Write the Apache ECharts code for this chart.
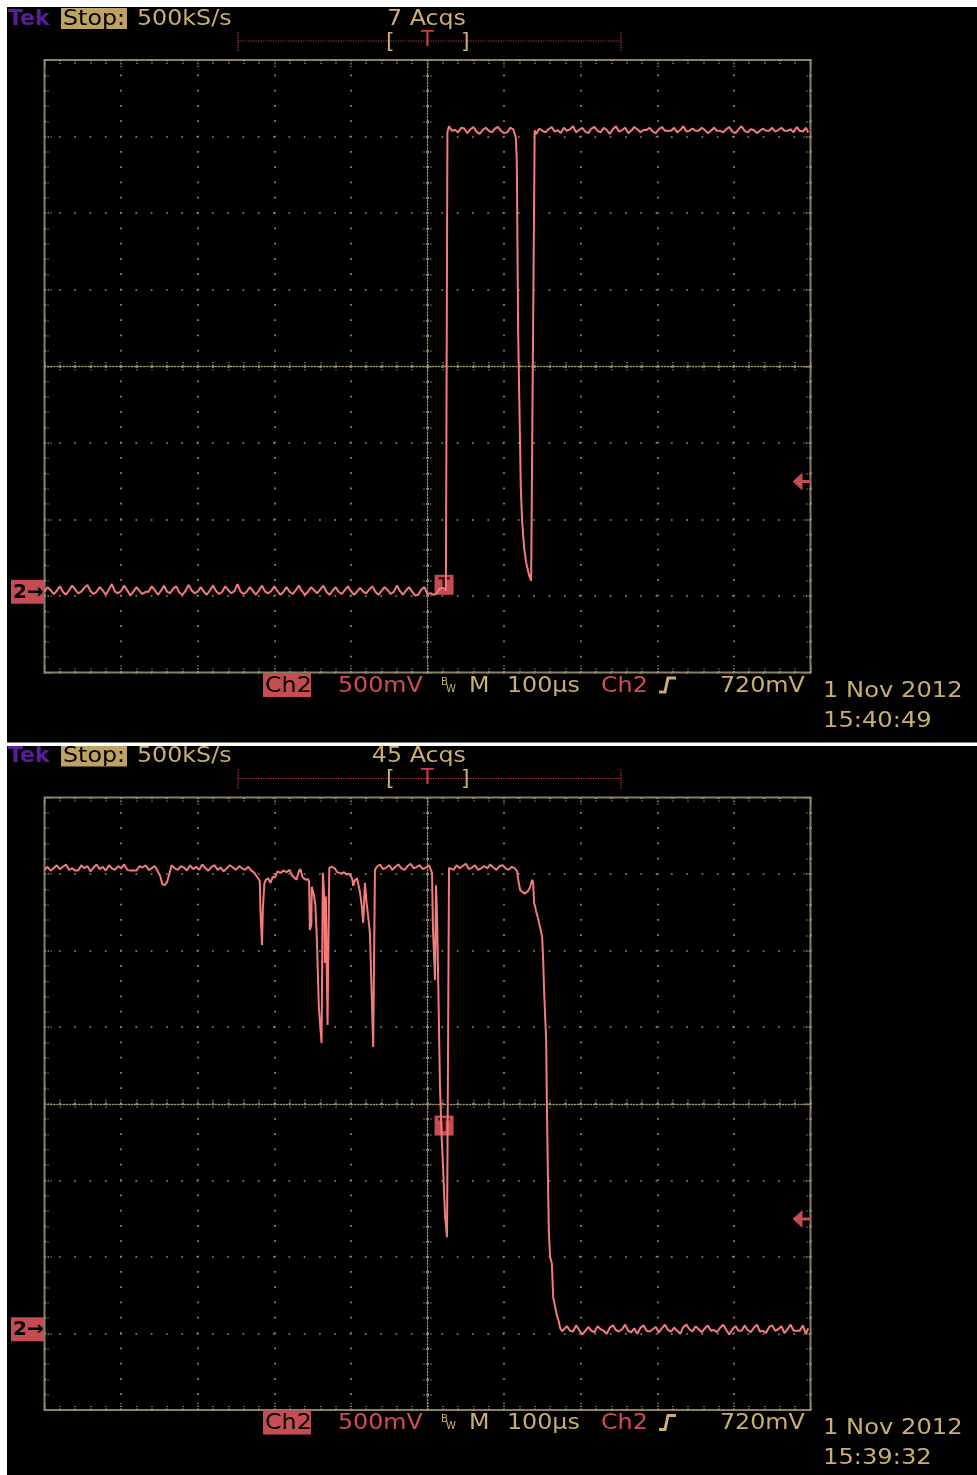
<!DOCTYPE html>
<html><head><meta charset="utf-8">
<script src="https://cdn.jsdelivr.net/npm/echarts@6/dist/echarts.min.js"></script>
<style>html,body{margin:0;padding:0;background:#000}#c{width:977px;height:1475px}</style>
</head><body><div id="c"></div><script>
// ---------------- data ----------------
// time in microseconds (100 us/div, 0 = screen centre), Ch2 voltage in mV (500 mV/div)
const trace1 = [
[-500,0],[-496,30],[-492,10],[-488,-15],[-484,5],[-480,35],[-476,0],[-472,-20],[-468,10],[-464,40],
[-460,15],[-456,-10],[-452,0],[-448,25],[-444,45],[-440,5],[-436,-15],[-432,0],[-428,30],[-424,10],
[-420,-20],[-416,15],[-412,50],[-408,0],[-404,-10],[-400,5],[-396,40],[-392,10],[-388,-25],[-384,0],
[-380,30],[-376,5],[-372,-15],[-368,0],[-364,0],[-360,35],[-356,10],[-352,-20],[-348,5],[-344,40],
[-340,0],[-336,-10],[-332,20],[-328,35],[-324,-5],[-320,-20],[-316,5],[-312,45],[-308,10],[-304,-10],
[-300,0],[-296,30],[-292,0],[-288,-20],[-284,10],[-280,40],[-276,5],[-272,-15],[-268,0],[-264,35],
[-260,10],[-256,-10],[-252,5],[-248,50],[-244,0],[-240,-15],[-236,0],[-232,30],[-228,5],[-224,-20],
[-220,10],[-216,40],[-212,0],[-208,-10],[-204,5],[-200,35],[-196,5],[-192,-20],[-188,0],[-184,30],
[-180,0],[-176,-15],[-172,10],[-168,40],[-164,5],[-160,-20],[-156,0],[-152,30],[-148,10],[-144,-10],
[-140,15],[-136,40],[-132,0],[-128,-20],[-124,5],[-120,30],[-116,0],[-112,-15],[-108,10],[-104,35],
[-100,5],[-96,-20],[-92,0],[-88,25],[-84,0],[-80,-10],[-76,15],[-72,35],[-68,0],[-64,-20],
[-60,5],[-56,30],[-52,10],[-48,-15],[-44,0],[-40,40],[-36,5],[-32,-20],[-28,10],[-24,30],
[-20,0],[-16,-25],[-12,-20],[-8,15],[-4,30],[0,-15],[4,-10],[8,-20],[12,-10],[16,20],[20,25],[24,10],
[26,3000],[28,3040],[32,3010],[36,3015],[40,3000],[44,3030],[48,3025],[52,2995],[56,3020],[60,3035],
[64,3005],[68,2990],[72,3015],[76,3030],[80,3010],[84,3000],[88,3025],[92,3035],[96,3010],[100,2995],
[104,3000],[108,3030],[112,3020],
[113.5,3007],[115.3,2967],[116.6,2817],[118.3,1706],[121.8,680],[123.5,464],[126.1,288],[128.8,190],
[130.7,150],[132.7,105],[135.3,72],[137.9,72],[139.9,3013],
[142,2990],[146,3025],[150,3010],[154,3000],[158,3020],[162,3035],[166,3005],[170,3015],[174,2995],[178,3030],
[182,3010],[186,3020],[190,3040],[194,3000],[198,3015],[202,3030],[206,3005],[210,2995],[214,3025],[218,3035],
[222,3010],[226,3000],[230,3030],[234,3015],[238,2990],[242,3020],[246,3040],[250,3005],[254,3015],[258,3030],
[262,2995],[266,3010],[270,3035],[274,3020],[278,3000],[282,3015],[286,3015],[290,3030],[294,3005],[298,2995],
[302,3020],[306,3035],[310,3010],[314,3010],[318,3010],[322,3030],[326,3000],[330,3015],[334,3040],[338,3005],
[342,3010],[346,3025],[350,3010],[354,3010],[358,3030],[362,3015],[366,2995],[370,3010],[374,3030],[378,3010],
[382,3010],[386,3000],[390,3020],[394,3035],[398,3005],[402,2995],[406,3020],[410,3040],[414,3010],[418,3000],
[422,3020],[426,3015],[430,2995],[434,3010],[438,3025],[442,3010],[446,3010],[450,3030],[454,3005],[458,3015],
[462,3030],[466,3010],[470,3010],[474,3020],[478,3000],[482,3035],[486,3010],[490,3005],[494,3030],[497,3000]
];
const trace2 = [
[-500,3000],[-496,3020],[-492,2995],[-488,3010],[-484,3030],[-480,3005],[-476,3020],[-472,3035],[-468,3000],[-464,3010],
[-460,2995],[-456,2995],[-452,3030],[-448,3010],[-444,3025],[-440,2990],[-436,3015],[-432,3035],[-428,3005],[-424,3020],
[-420,2995],[-416,3030],[-412,3010],[-408,3000],[-404,3025],[-400,3010],[-396,3035],[-392,3000],[-388,2995],[-384,2995],
[-380,2995],[-376,3025],[-372,3015],[-368,3030],[-364,3000],[-360,3010],[-356,3025],[-352,2990],
[-349,2960],[-346,2905],[-343,2900],[-340,2920],[-337,2975],
[-334,3030],[-330,3010],[-326,3000],[-322,3025],[-318,3015],[-314,2995],[-310,3030],[-306,3005],[-302,3020],[-298,3000],
[-294,3035],[-290,3010],[-286,2995],[-282,3020],[-278,3030],[-274,3000],[-270,3015],[-266,2990],[-262,3010],[-258,3030],
[-254,3015],[-250,3000],[-246,3025],[-242,3010],[-238,3000],[-234,3020],[-230,2995],
[-226,2980],[-222,2950],[-219,2930],[-218,2720],[-216,2510],[-215,2740],[-213,2910],[-211,2935],
[-208,2945],[-205,2915],[-202,2955],[-199,2950],[-196,2990],[-192,2980],[-188,2995],[-184,2985],[-180,3000],[-177,2965],
[-174,2950],[-171,2935],[-168,2990],[-166,3005],[-163,2950],[-159,2935],[-156,2940],
[-154.5,2922],[-153.6,2608],[-151.7,2640],[-151,2889],[-148.4,2837],[-146.4,2771],[-144.4,2542],[-141.8,2098],
[-138.3,1869],[-136.6,2980],[-134.6,2804],[-134,2392],[-132.7,2826],[-130.5,1987],[-128.2,3013],
[-125,3020],[-121,3010],[-118,2985],[-115,2980],[-112,2975],[-109,2985],[-106,2970],[-103,2975],[-100,2960],
[-98,2935],[-97,2895],[-95,2930],[-92,2945],[-90,2940],
[-88.2,2856],[-86,2771],[-83.9,2654],[-81.7,2915],[-79.5,2784],[-77.4,2693],[-75.2,2588],[-73,2216],[-70.9,1843],[-68.6,3000],
[-66,3020],[-62,3035],[-58,3005],[-54,3015],[-50,3030],[-46,3000],[-42,3020],[-38,3035],[-34,3010],[-30,3000],
[-26,3025],[-22,3040],[-18,3010],[-14,3020],[-10,3030],[-6,3005],[-2,3015],[2,3030],
[5.9,2980],[7.2,2608],[9.8,2281],[11.1,2900],[12.4,2719],[14.4,2150],[16.3,1582],[18.5,1250],[20.3,1059],[23,732],
[25.5,601],[26.8,1804],[28.1,3013],
[30,3020],[34,3000],[38,3030],[42,3010],[46,3025],[50,3040],[54,3005],[58,3015],[62,3030],[66,3000],
[70,3010],[74,3025],[78,3010],[82,3035],[86,3015],[90,3000],[94,3025],[98,3030],[102,3010],[106,3000],[110,3020],[114,3010],
[117,2990],[118.5,2935],[120.9,2869],[124,2856],[127,2845],[131,2860],[134,2889],[136.6,2935],[137.9,2920],[139.2,2784],
[140.5,2760],[142,2725],[144.5,2680],[147.1,2621],[149.7,2560],[151,2412],[152.3,2200],[154.9,1889],[156.2,1346],[157.5,908],
[158.5,627],[160.1,471],[162.3,431],[164.1,209],[166.7,144],[168.8,92],[171,59],[173.2,7],[175.8,-13],
[178,-5],[182,20],[186,-10],[190,-15],[194,25],[198,-5],[202,-35],[206,-10],[210,15],[214,-10],
[218,-20],[222,20],[226,0],[230,-10],[234,-30],[238,10],[242,25],[246,-5],[250,-15],[254,0],
[258,30],[262,-10],[266,-20],[270,5],[274,-30],[278,10],[282,25],[286,-10],[290,-15],[294,0],
[298,15],[302,-20],[306,5],[310,30],[314,-5],[318,-15],[322,10],[326,-10],[330,-30],[334,15],
[338,30],[342,0],[346,-15],[350,20],[354,0],[358,-20],[362,5],[366,25],[370,-10],[374,-5],
[378,-20],[382,10],[386,30],[390,-5],[394,-35],[398,0],[402,20],[406,-10],[410,-10],[414,25],
[418,-5],[422,-20],[426,10],[430,30],[434,-15],[438,-10],[442,-25],[446,15],[450,25],[454,-10],
[458,0],[462,20],[466,-25],[470,0],[474,30],[478,-10],[482,-10],[486,-10],[490,25],[494,-30],[497,5]
];
const acqLabels = ['7 Acqs', '45 Acqs'];
const timeStamps = ['15:40:49', '15:39:32'];
const dateLabel = '1 Nov 2012';
const sampleRateLabel = '500kS/s';
const voltsLabel = '500mV';
const timeLabel = '100\u00b5s';
const trigLevelLabel = '720mV';
const trigLevelMV = [720, 720];
const trigMarkT = [21.6, 21.6];      // on-trace "T" marker, us
const trigMarkMV = [45, 1330];       // on-trace "T" marker, mV
const MV_PER_DIV = 500;
const GROUND_DIV = 1.055;            // ground reference, divisions above bottom

// ---------------- layout / style ----------------
const PANEL_DY = 737.5;
const GRID_L = 44.5, GRID_T = 60, GRID_W = 766, GRID_H = 612.5;
const TAN = '#c9ae6f', RED_TXT = '#d24b55', RED_BOX = '#c44c52', PURPLE = '#5b1d9c';
const GRAT = '#9a9070', BORDER = '#8a8163', TRACE = '#f27c7c';
const FONT = '"DejaVu Sans", sans-serif';
const SX = 1.08;   // horizontal stretch of the scope's wide bitmap font

const toDiv = mv => mv / MV_PER_DIV + GROUND_DIV;

const xAxes = [], yAxes = [], grids = [];
const tickStyle = {color: GRAT, width: 1.5, type: [1.5, 1.5]};
function mkX(g, pos, extra) {
  return Object.assign({
    gridIndex: g, type: 'value', min: -500, max: 500, interval: 100, position: pos,
    axisLine: {show: false, onZero: false}, axisLabel: {show: false},
    axisTick: {show: true, inside: true, length: 7, lineStyle: tickStyle},
    minorTick: {show: true, splitNumber: 5, length: 4, lineStyle: tickStyle},
    splitLine: {show: false}
  }, extra || {});
}
function mkY(g, pos, extra) {
  return Object.assign({
    gridIndex: g, type: 'value', min: 0, max: 8, interval: 1, position: pos,
    axisLine: {show: false, onZero: false}, axisLabel: {show: false},
    axisTick: {show: true, inside: true, length: 7, lineStyle: tickStyle},
    minorTick: {show: true, splitNumber: 5, length: 4, lineStyle: tickStyle},
    splitLine: {show: false}
  }, extra || {});
}
const dotLine = {show: true, lineStyle: {color: GRAT, width: 1.7, type: [1.7, 13.6], dashOffset: 0.85}};
const centreLine = {show: true, onZero: false, lineStyle: {color: GRAT, width: 1.3, type: [1.3, 1.8]}};
for (let g = 0; g < 2; g++) {
  grids.push({left: GRID_L, top: GRID_T + g * PANEL_DY, width: GRID_W, height: GRID_H,
    show: true, borderColor: BORDER, borderWidth: 2, backgroundColor: 'transparent'});
  xAxes.push(mkX(g, 'bottom', {splitLine: dotLine}));
  xAxes.push(mkX(g, 'top'));
  xAxes.push(mkX(g, 'bottom', {offset: -GRID_H / 2, axisLine: centreLine,
    axisTick: {show: true, inside: true, length: 4, lineStyle: tickStyle}}));
  xAxes.push(mkX(g, 'top', {offset: -GRID_H / 2,
    axisTick: {show: true, inside: true, length: 4, lineStyle: tickStyle}}));
  yAxes.push(mkY(g, 'left', {splitLine: dotLine}));
  yAxes.push(mkY(g, 'right'));
  yAxes.push(mkY(g, 'left', {offset: -GRID_W / 2, axisLine: centreLine,
    axisTick: {show: true, inside: true, length: 4, lineStyle: tickStyle}}));
  yAxes.push(mkY(g, 'right', {offset: -GRID_W / 2,
    axisTick: {show: true, inside: true, length: 4, lineStyle: tickStyle}}));
}

const traces = [trace1, trace2];
const series = traces.map((tr, g) => ({
  type: 'line', xAxisIndex: g * 4, yAxisIndex: g * 4,
  data: tr.map(p => [p[0], toDiv(p[1])]),
  symbol: 'none', showSymbol: false, animation: false, z: 5,
  lineStyle: {color: TRACE, width: 2}
}));

const chart = echarts.init(document.getElementById('c'), null, {renderer: 'canvas', width: 977, height: 1475});
chart.setOption({
  backgroundColor: '#000', animation: false,
  grid: grids, xAxis: xAxes, yAxis: yAxes, series: series
});

function txt(x, y, s, fill, size, opts) {
  return Object.assign({type: 'text', x: x, y: y, z: 20, scaleX: SX,
    style: Object.assign({text: s, fill: fill, font: (size || 22) + 'px ' + FONT,
      verticalAlign: 'middle', align: 'left'}, (opts && opts.style) || {})},
    opts && opts.el || {});
}
const gfx = [];
// white frame between / around the two screenshots
gfx.push({type: 'rect', z: 30, shape: {x: 0, y: 0, width: 977, height: 7}, style: {fill: '#fff'}});
gfx.push({type: 'rect', z: 30, shape: {x: 0, y: 0, width: 7, height: 1475}, style: {fill: '#fff'}});
gfx.push({type: 'rect', z: 30, shape: {x: 0, y: 742.5, width: 977, height: 3.5}, style: {fill: '#fff'}});

for (let p = 0; p < 2; p++) {
  const dy = p * PANEL_DY;
  // header
  gfx.push(txt(8, 19 + dy, 'Tek', PURPLE, 22, {style: {font: 'bold 22px ' + FONT}, el: {scaleX: 1}}));
  gfx.push({type: 'rect', z: 19, shape: {x: 61, y: 8 + dy, width: 66, height: 21}, style: {fill: '#bda262'}});
  gfx.push(txt(63, 19 + dy, 'Stop:', '#000', 22));
  gfx.push(txt(137, 19 + dy, sampleRateLabel, TAN, 22));
  gfx.push(txt(466, 19 + dy, acqLabels[p], TAN, 22, {style: {align: 'right'}}));
  // record bar
  gfx.push({type: 'line', z: 19, shape: {x1: 238, y1: 41 + dy, x2: 621, y2: 41 + dy},
    style: {stroke: '#c23a48', lineWidth: 1.2, lineDash: [1.2, 1.3]}});
  gfx.push({type: 'line', z: 19, shape: {x1: 238, y1: 32 + dy, x2: 238, y2: 51 + dy},
    style: {stroke: '#c23a48', lineWidth: 1.2, lineDash: [1.2, 1.3]}});
  gfx.push({type: 'line', z: 19, shape: {x1: 621, y1: 32 + dy, x2: 621, y2: 51 + dy},
    style: {stroke: '#c23a48', lineWidth: 1.2, lineDash: [1.2, 1.3]}});
  gfx.push(txt(386, 42 + dy, '[', TAN, 22, {el: {scaleX: 1}}));
  gfx.push(txt(461, 42 + dy, ']', TAN, 22, {el: {scaleX: 1}}));
  gfx.push(txt(427.5, 41 + dy, 'T', '#d23a44', 21, {style: {align: 'center'}, el: {scaleX: 1}}));
  // footer
  gfx.push({type: 'rect', z: 19, shape: {x: 263, y: 673 + dy, width: 48, height: 24}, style: {fill: RED_BOX}});
  gfx.push(txt(265, 686 + dy, 'Ch2', '#000', 22));
  gfx.push(txt(338, 686 + dy, voltsLabel, RED_TXT, 22));
  gfx.push(txt(441, 682 + dy, 'B', TAN, 10, {el: {scaleX: 1}}));
  gfx.push(txt(446, 689 + dy, 'W', TAN, 10, {el: {scaleX: 1}}));
  gfx.push(txt(469, 686 + dy, 'M', TAN, 22));
  gfx.push(txt(507, 686 + dy, timeLabel, TAN, 22));
  gfx.push(txt(601, 686 + dy, 'Ch2', RED_TXT, 22));
  gfx.push({type: 'polyline', z: 20, shape: {points: [[659, 692 + dy], [665, 692 + dy], [668, 678 + dy], [676, 678 + dy]]},
    style: {stroke: TAN, lineWidth: 3, fill: null}});
  gfx.push(txt(720, 686 + dy, trigLevelLabel, TAN, 22));
  gfx.push(txt(823, 691 + dy, dateLabel, TAN, 22, {el: {scaleX: 1.1}}));
  gfx.push(txt(823, 721 + dy, timeStamps[p], TAN, 22, {el: {scaleX: 1.1}}));

  // markers placed through the chart's own scales
  const gnd = chart.convertToPixel({xAxisIndex: p * 4, yAxisIndex: p * 4}, [-500, toDiv(0)]);
  gfx.push({type: 'rect', z: 19, shape: {x: 11, y: gnd[1] - 12, width: 33, height: 24}, style: {fill: RED_BOX}});
  gfx.push(txt(13, gnd[1] + 1, '2\u2192', '#000', 20, {style: {font: 'bold 20px ' + FONT}, el: {scaleX: 1}}));

  const lvl = chart.convertToPixel({xAxisIndex: p * 4, yAxisIndex: p * 4}, [500, toDiv(trigLevelMV[p])]);
  gfx.push({type: 'polygon', z: 19, shape: {points: [[lvl[0] - 18, lvl[1]], [lvl[0] - 8, lvl[1] - 9], [lvl[0] - 8, lvl[1] + 9]]},
    style: {fill: RED_BOX}});
  gfx.push({type: 'line', z: 19, shape: {x1: lvl[0] - 9, y1: lvl[1], x2: lvl[0], y2: lvl[1]},
    style: {stroke: RED_BOX, lineWidth: 3}});

  const tm = chart.convertToPixel({xAxisIndex: p * 4, yAxisIndex: p * 4}, [trigMarkT[p], toDiv(trigMarkMV[p])]);
  gfx.push({type: 'rect', z: 1, shape: {x: tm[0] - 9.5, y: tm[1] - 10, width: 19, height: 20}, style: {fill: RED_BOX}});
  gfx.push({type: 'text', z: 1, x: tm[0], y: tm[1] + 1,
    style: {text: 'T', fill: '#3a0c0c', font: 'bold 17px ' + FONT, align: 'center', verticalAlign: 'middle'}});
}
chart.setOption({graphic: gfx});
</script></body></html>
